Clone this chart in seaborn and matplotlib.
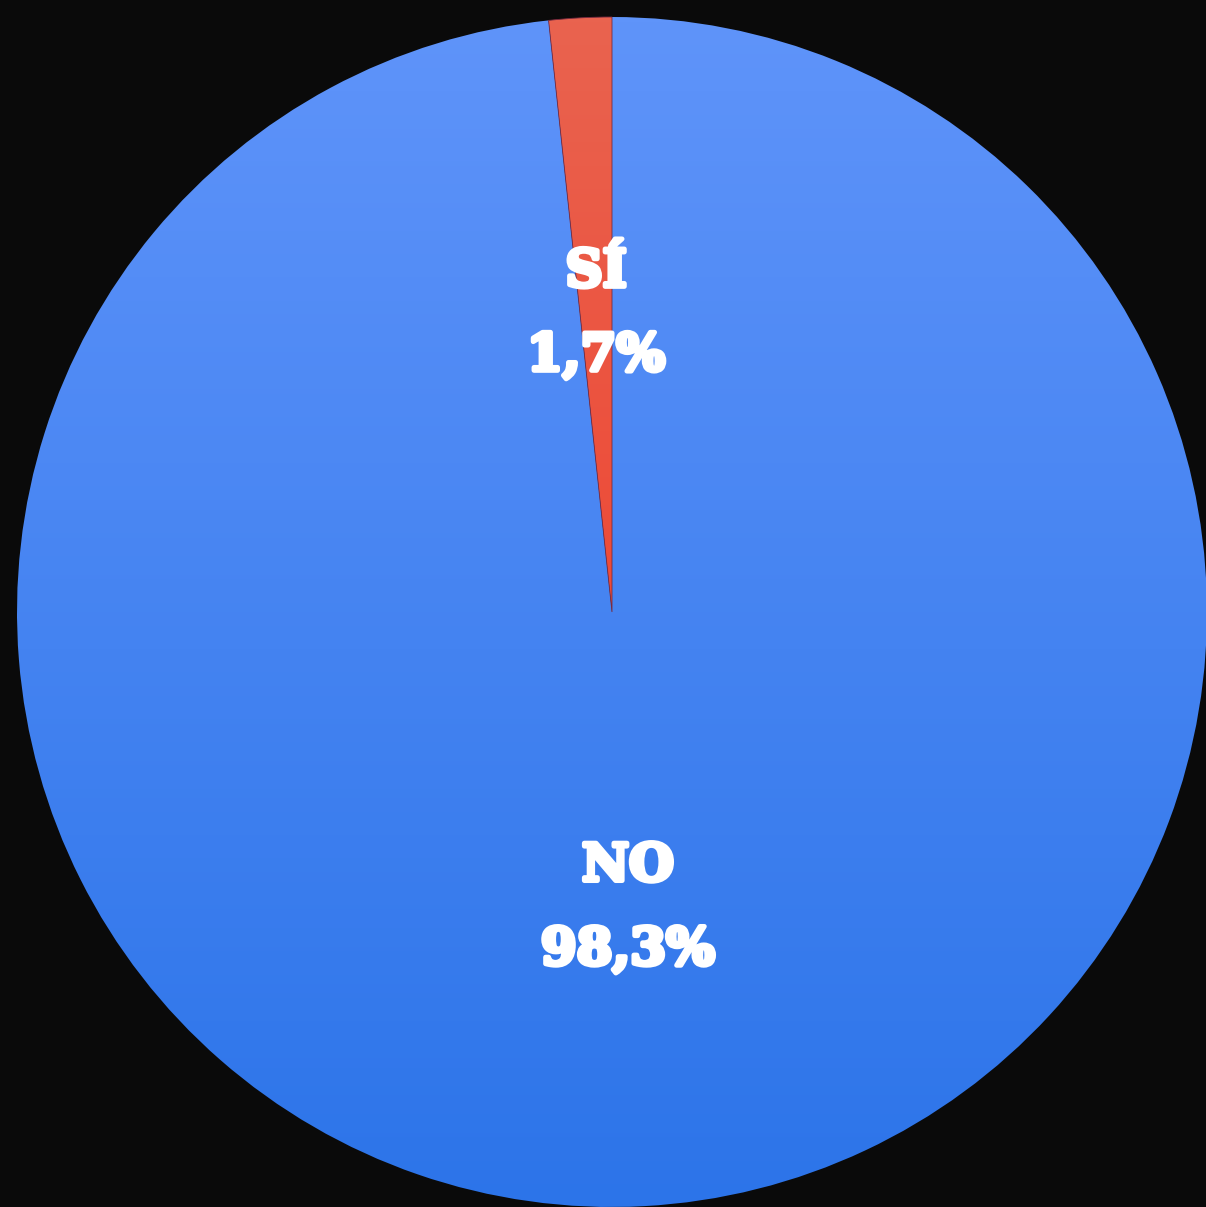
import matplotlib
matplotlib.use("Agg")
import matplotlib.pyplot as plt
import matplotlib.colors as mcolors
import matplotlib.patheffects as pe
import numpy as np
import seaborn as sns

# data
labels = ["SÍ", "NO"]
shares = [1.7, 98.3]
pct_text = ["1,7%", "98,3%"]

# top -> bottom gradient colours per slice
grad_colors = [("#e9634f", "#f2321f"), ("#5f94fa", "#2c74e9")]

sns.set_theme(style="white")
plt.rcParams["font.family"] = ["DejaVu Serif", "DejaVu Sans"]

W, H, DPI = 1206, 1207, 100
fig = plt.figure(figsize=(W / DPI, H / DPI), dpi=DPI)
fig.patch.set_facecolor("#0a0a0a")
ax = fig.add_axes([0, 0, 1, 1])
ax.set_facecolor("#0a0a0a")

wedges, texts = ax.pie(
    shares,
    labels=[f"{l}\n{p}" for l, p in zip(labels, pct_text)],
    labeldistance=0.5,
    startangle=90,
    counterclock=True,
    wedgeprops=dict(linewidth=0),
)

# pie centre sits at about (612, 612) px with a radius of ~595 px
cx, cy, r = 612, 612, 595
ax.set_aspect("auto")
ax.axis("off")

# vertical gradient fill clipped to each wedge
grad = np.linspace(0, 1, 256).reshape(-1, 1)
for w, (c_top, c_bot) in zip(wedges, grad_colors):
    w.set_facecolor("none")
    cmap = mcolors.LinearSegmentedColormap.from_list("g", [c_top, c_bot])
    im = ax.imshow(grad, cmap=cmap, extent=(-1, 1, -1, 1), origin="upper",
                   aspect="auto", zorder=1)
    im.set_clip_path(w)
wedges[0].set_edgecolor("#7a2a40")
wedges[0].set_linewidth(0.6)
wedges[0].set_zorder(2)

# heavy slab look: bold serif fattened with a white stroke
for t in texts:
    t.set_ha("center")
    t.set_va("center")
    t.set_color("white")
    t.set_fontsize(37)
    t.set_fontweight("heavy")
    t.set_linespacing(1.92)
    t.set_zorder(5)
    t.set_path_effects([pe.withStroke(linewidth=3.5, foreground="white")])

ax.set_xlim(-cx / r, (W - cx) / r)
ax.set_ylim(-(H - cy) / r, cy / r)
fig.savefig("out.png", dpi=DPI, facecolor=fig.get_facecolor())
